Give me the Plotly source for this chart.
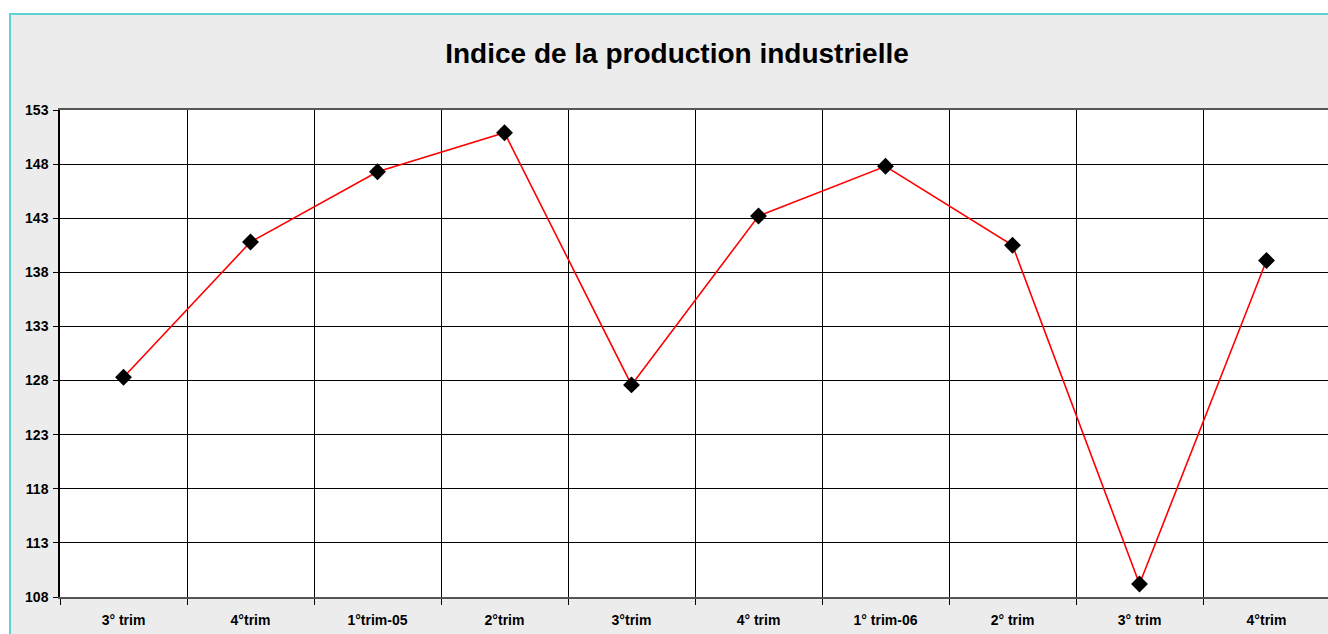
import plotly.graph_objects as go

categories = ["3° trim", "4°trim", "1°trim-05", "2°trim", "3°trim",
              "4° trim", "1° trim-06", "2° trim", "3° trim", "4°trim"]
values = [128.3, 140.8, 147.3, 150.9, 127.6, 143.2, 147.8, 140.5, 109.2, 139.1]
y_ticks = [108, 113, 118, 123, 128, 133, 138, 143, 148, 153]

x_idx = list(range(len(categories)))

fig = go.Figure()
fig.add_trace(go.Scatter(
    x=x_idx, y=values, mode="lines+markers",
    line=dict(color="#ff0000", width=1.6),
    marker=dict(symbol="diamond", size=13, color="black"),
    showlegend=False, hoverinfo="x+y",
))

font_family = "Liberation Sans, Arial, sans-serif"

W, H = 1328, 634
fig.update_layout(
    width=W, height=H,
    margin=dict(l=60, r=0, t=110, b=37),
    paper_bgcolor="white",
    plot_bgcolor="white",
    title=dict(text="<b>Indice de la production industrielle</b>",
               x=677 / W, xref="container", xanchor="center",
               y=1 - 53 / H, yanchor="middle",
               font=dict(family=font_family, size=28, color="black")),
    font=dict(family=font_family, color="black"),
    shapes=[
        dict(type="rect", xref="paper", yref="paper",
             x0=-50 / 1268, x1=1.05, y0=-0.1, y1=1 + 96 / 487,
             fillcolor="#ececec", line=dict(color="#5fd3d3", width=2),
             layer="below"),
        dict(type="rect", xref="paper", yref="paper",
             x0=0, x1=1, y0=0, y1=1,
             fillcolor="white", line=dict(width=0), layer="below"),
    ],
)

fig.update_xaxes(
    range=[-0.5, -0.5 + 1268 / 127],
    tickmode="array", tickvals=x_idx, ticktext=[f"<b>{c}</b>" for c in categories],
    tickfont=dict(size=14, color="black"),
    ticklabelstandoff=9,
    showgrid=False, ticks="",
    showline=True, linecolor="#555555", linewidth=2,
    mirror=True,
    minor=dict(tick0=-0.5, dtick=1, showgrid=True, gridcolor="black",
               gridwidth=1, ticks="outside", ticklen=6, tickcolor="black"),
    zeroline=False, fixedrange=True,
)
fig.update_yaxes(
    range=[108, 153],
    tickmode="array", tickvals=y_ticks, ticktext=[f"<b>{v}</b>" for v in y_ticks],
    tickfont=dict(size=14, color="black"),
    ticklabelstandoff=2,
    showgrid=True, gridcolor="black", gridwidth=1,
    ticks="outside", ticklen=5, tickcolor="black",
    showline=True, linecolor="black", linewidth=1.5,
    zeroline=False, fixedrange=True,
)

fig.write_html(
    "out.html",
    config={"displayModeBar": False},
    post_script="document.body.style.margin='0';document.body.style.overflow='hidden';",
)
